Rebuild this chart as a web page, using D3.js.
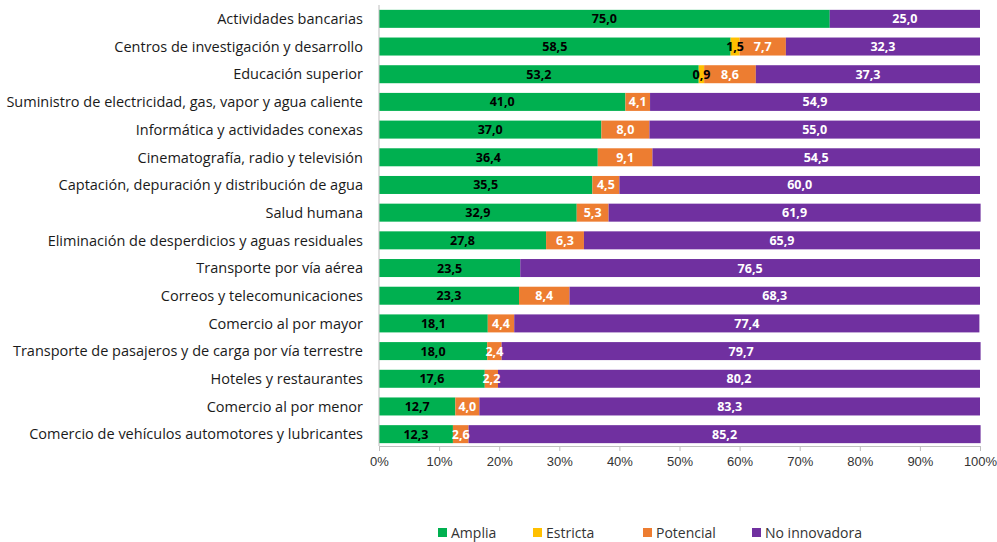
<!DOCTYPE html>
<html lang="es">
<head>
    <meta charset="UTF-8">
    <title>Tipo de innovación por sector</title>
    <script src="https://d3js.org/d3.v7.min.js"></script>
    <style>
        body {
            margin: 0;
            padding: 0;
            background-color: #ffffff;
            overflow: hidden;
        }

        svg {
            display: block;
            font-family: "Open Sans", "Noto Sans", sans-serif;
        }

        .cat-label {
            font-size: 14.5px;
            fill: #1a1a1a;
        }

        .val-label {
            font-size: 12.5px;
            font-weight: bold;
        }

        .tick text {
            font-size: 13px;
            fill: #333;
        }
    </style>
</head>
<body>
    <script>
        // Sectores (de arriba hacia abajo)
        const categories = [
            "Actividades bancarias",
            "Centros de investigación y desarrollo",
            "Educación superior",
            "Suministro de electricidad, gas, vapor y agua caliente",
            "Informática y actividades conexas",
            "Cinematografía, radio y televisión",
            "Captación, depuración y distribución de agua",
            "Salud humana",
            "Eliminación de desperdicios y aguas residuales",
            "Transporte por vía aérea",
            "Correos y telecomunicaciones",
            "Comercio al por mayor",
            "Transporte de pasajeros y de carga por vía terrestre",
            "Hoteles y restaurantes",
            "Comercio al por menor",
            "Comercio de vehículos automotores y lubricantes"
        ];

        const amplia = [75.0, 58.5, 53.2, 41.0, 37.0, 36.4, 35.5, 32.9, 27.8, 23.5, 23.3, 18.1, 18.0, 17.6, 12.7, 12.3];
        const estricta = [0, 1.5, 0.9, 0, 0, 0, 0, 0, 0, 0, 0, 0, 0, 0, 0, 0];
        const potencial = [0, 7.7, 8.6, 4.1, 8.0, 9.1, 4.5, 5.3, 6.3, 0, 8.4, 4.4, 2.4, 2.2, 4.0, 2.6];
        const noInnovadora = [25.0, 32.3, 37.3, 54.9, 55.0, 54.5, 60.0, 61.9, 65.9, 76.5, 68.3, 77.4, 79.7, 80.2, 83.3, 85.2];

        const seriesNames = ["Amplia", "Estricta", "Potencial", "No innovadora"];
        const seriesColors = ["#00b050", "#ffc000", "#ed7d31", "#7030a0"];
        const labelColors = ["#000", "#000", "#fff", "#fff"];
        const xTicks = [0, 10, 20, 30, 40, 50, 60, 70, 80, 90, 100];

        const width = 997;
        const height = 542;

        // tabla para d3.stack
        const table = categories.map((c, i) => ({
            cat: c,
            "Amplia": amplia[i],
            "Estricta": estricta[i],
            "Potencial": potencial[i],
            "No innovadora": noInnovadora[i]
        }));

        const stacked = d3.stack().keys(seriesNames)(table);

        const x = d3.scaleLinear().domain([0, 100]).range([379, 980]);
        const y = d3.scaleBand()
            .domain(categories)
            .range([5, 448])
            .paddingInner(0.35)
            .paddingOuter(0.175);

        const svg = d3.select("body").append("svg")
            .attr("width", width)
            .attr("height", height);

        // Barras
        const layers = svg.selectAll(".layer")
            .data(stacked)
            .enter().append("g")
            .attr("class", "layer")
            .attr("fill", (d, i) => seriesColors[i]);

        layers.selectAll("rect")
            .data(d => d)
            .enter().append("rect")
            .attr("x", d => x(d[0]))
            .attr("y", d => y(d.data.cat))
            .attr("width", d => x(d[1]) - x(d[0]))
            .attr("height", y.bandwidth());

        // Etiquetas de valores
        stacked.forEach((layer, si) => {
            svg.append("g")
                .selectAll("text")
                .data(layer.filter(d => d[1] - d[0] > 0))
                .enter().append("text")
                .attr("class", "val-label")
                .attr("x", d => x((d[0] + d[1]) / 2))
                .attr("y", d => y(d.data.cat) + y.bandwidth() / 2)
                .attr("dy", "0.36em")
                .attr("text-anchor", "middle")
                .attr("fill", labelColors[si])
                .text(d => d3.format(".1f")(d[1] - d[0]).replace(".", ","));
        });

        // Etiquetas de categorías
        svg.append("g")
            .selectAll("text")
            .data(categories)
            .enter().append("text")
            .attr("class", "cat-label")
            .attr("x", 363)
            .attr("y", d => y(d) + y.bandwidth() / 2)
            .attr("dy", "0.36em")
            .attr("text-anchor", "end")
            .text(d => d);

        // Eje vertical
        svg.append("line")
            .attr("x1", x(0)).attr("x2", x(0))
            .attr("y1", 5).attr("y2", 446)
            .attr("stroke", "#bfbfbf")
            .attr("stroke-width", 1);

        // Eje X
        const xAxis = svg.append("g")
            .attr("transform", "translate(0,446)")
            .call(d3.axisBottom(x)
                .tickValues(xTicks)
                .tickFormat(d => d + "%")
                .tickSize(5)
                .tickPadding(6));
        xAxis.select(".domain").attr("stroke", "#bfbfbf");
        xAxis.selectAll(".tick line").attr("stroke", "#bfbfbf");

        // Leyenda
        const legendX = [438, 533, 643, 752];
        const legend = svg.append("g").attr("class", "legend");
        seriesNames.forEach((name, i) => {
            const g = legend.append("g").attr("transform", `translate(${legendX[i]},533)`);
            g.append("rect")
                .attr("x", 0).attr("y", -5)
                .attr("width", 9).attr("height", 9)
                .attr("fill", seriesColors[i]);
            g.append("text")
                .attr("x", 13)
                .attr("y", 0)
                .attr("dy", "0.35em")
                .style("font-size", "14px")
                .attr("fill", "#333")
                .text(name);
        });
    </script>
</body>
</html>
